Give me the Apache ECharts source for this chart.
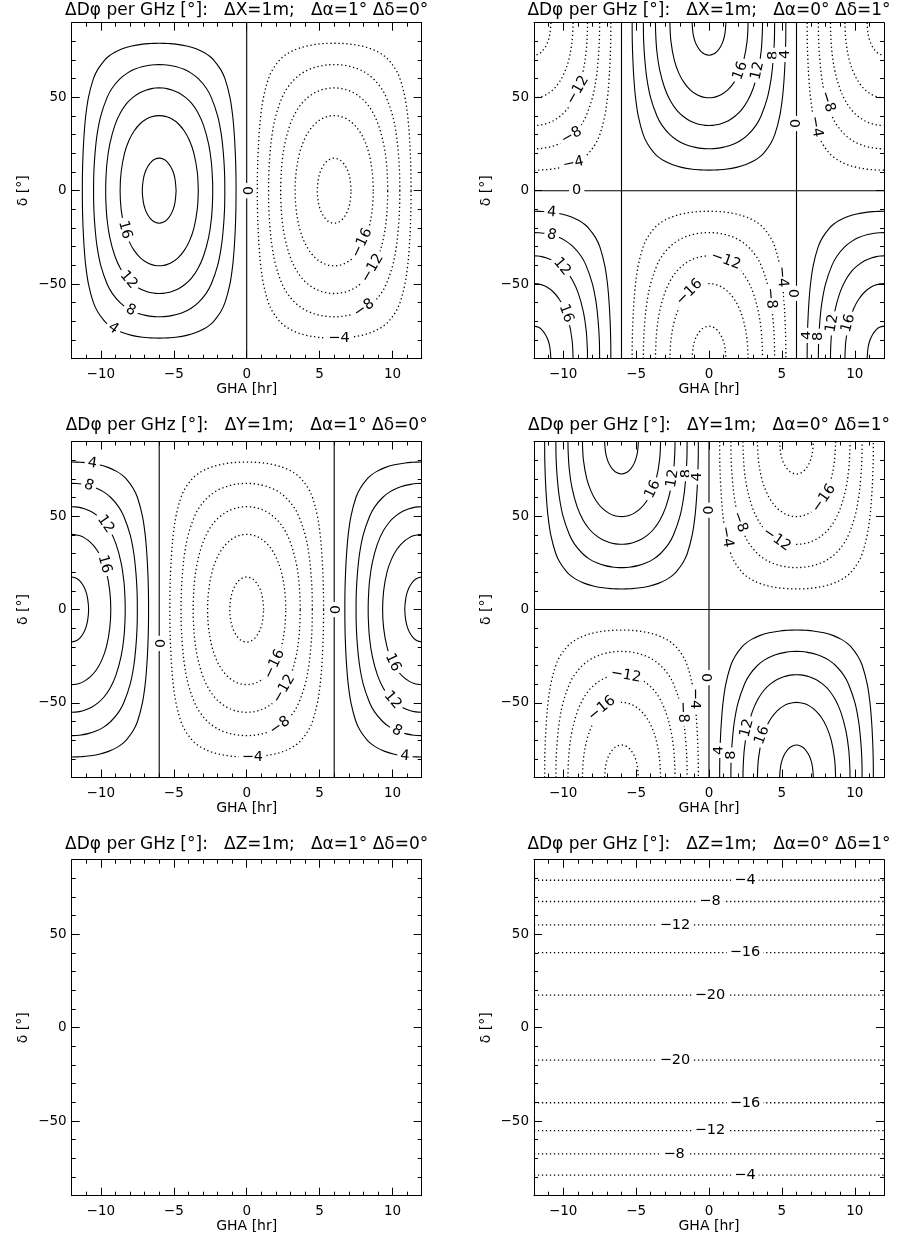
<!DOCTYPE html>
<html>
<head>
<meta charset="utf-8">
<script src="https://cdn.jsdelivr.net/npm/echarts@6/dist/echarts.min.js"></script>
<style>
html, body { margin: 0; background: #fff; }
#chart { width: 900px; height: 1243px; }
</style>
</head>
<body>
<div id="chart"></div>
<script>
// contour levels (phase in degrees per GHz)
var levels = [4, 8, 12, 16, 20];

// one quarter of each closed contour:
// [hours away from the loop centre, degrees away from the centre]
var prof4 = [[5.27, 0], [5.26, 10], [5.22, 20], [5.15, 30], [5.04, 40], [4.85, 50], [4.51, 60], [4.21, 65], [3.74, 70], [3.46, 72], [3.08, 74], [2.53, 76], [1.88, 77.5], [1.13, 78.5], [0.63, 78.85], [0.35, 78.95], [0, 79.0]];
var prof8 = [[4.50, 0], [4.48, 10], [4.40, 20], [4.26, 30], [4.01, 40], [3.57, 50], [3.22, 55], [2.68, 60], [2.19, 63], [1.70, 65], [1.12, 66.5], [0.66, 67.2], [0.33, 67.47], [0, 67.56]];
var prof12 = [[3.67, 0], [3.66, 5], [3.58, 15], [3.39, 25], [3.04, 35], [2.64, 42], [2.20, 47], [1.80, 50], [1.33, 52.5], [0.87, 54], [0.52, 54.7], [0.26, 54.98], [0, 55.07]];
var prof16 = [[2.68, 0], [2.61, 10], [2.38, 20], [2.07, 27], [1.72, 32], [1.29, 36], [0.85, 38.5], [0.52, 39.6], [0.26, 40.07], [0, 40.23]];
var prof20 = [[1.16, 0], [1.09, 6], [0.96, 10], [0.78, 13], [0.54, 15.5], [0.31, 16.8], [0, 17.44]];
var profiles = [prof4, prof8, prof12, prof16, prof20];

// loop centres per panel: [GHA, dec, sign]
var centresXa = [[-6, 0, 1], [6, 0, -1]];
var centresXd = [[0, 90, 1], [0, -90, -1], [-12, 90, -1], [12, 90, -1], [-12, -90, 1], [12, -90, 1]];
var centresYa = [[0, 0, -1], [-12, 0, 1], [12, 0, 1]];
var centresYd = [[-6, 90, 1], [6, 90, -1], [-6, -90, -1], [6, -90, 1]];
var centresZa = [];
var centresZd = [];

// zero contours: vertical ones (GHA) and horizontal ones (dec)
var zeroGha = [[0], [-6, 6], [-6, 6], [0], [], []];
var zeroDec = [[], [0], [], [0], [], []];

// dZ / d-delta panel: flat contours at +-dec, levels -4 .. -20
var zLineDec = [79.0, 67.6, 55.1, 40.2, 17.4];

// contour labels: [GHA, dec, text, angle]
var labelsXa = [
  [0, 0, '0', -90], [-8.35, -21, '16', -75], [-8.1, -47.8, '12', -50], [-7.95, -64, '8', -25], [-9.15, -73.7, '4', -35],
  [7.9, -28, '\u221216', 65], [8.62, -41.5, '\u221212', 60], [8.05, -63, '\u22128', 35], [6.33, -79.0, '\u22124', 0]
];
var labelsXd = [
  [-9.0, 53.9, '\u221212', 60], [-9.42, 29.5, '\u22128', 30], [-9.3, 14.7, '\u22124', 12], [-9.07, 0, '0', 0],
  [-10.78, -11.6, '4', -5], [-10.78, -23.7, '8', -15], [-10.08, -40.7, '12', -50], [-9.8, -65.7, '16', -70],
  [2.15, 64.3, '16', 70], [3.33, 64.3, '12', 78], [4.38, 72.5, '8', 90], [5.2, 73, '4', 90], [6, 36, '0', 90],
  [8.12, 47.7, '\u22128', -72], [7.33, 34.3, '\u22124', -80],
  [1.15, -37.3, '\u221212', -20], [-1.35, -54.4, '\u221216', 45], [4.22, -57.6, '\u22128', -85], [5.0, -46.1, '\u22124', -85], [5.75, -55, '0', -90],
  [6.72, -77.5, '4', 90], [7.5, -78, '8', 90], [8.45, -71, '12', 80], [9.55, -71, '16', 75]
];
var labelsYa = [
  [-6, -18.2, '0', -90], [6, 0, '0', -90],
  [-10.59, 78.2, '4', -8], [-10.83, 66.4, '8', -20], [-9.67, 45.7, '12', -55], [-9.75, 24.3, '16', -75],
  [1.9, -29.3, '\u221216', 65], [2.55, -42.5, '\u221212', 60], [2.28, -62.3, '\u22128', 35], [0.39, -79, '\u22124', 0],
  [10.02, -28.4, '16', -65], [10.0, -48.5, '12', -50], [10.3, -65, '8', -30], [10.85, -78.5, '4', -5]
];
var labelsYd = [
  [-3.85, 64.4, '16', 65], [-2.5, 70.2, '12', 80], [-1.57, 72.8, '8', 90], [-0.78, 71, '4', 90], [0, 53.2, '0', 90],
  [2.1, 46.9, '\u22128', -70], [1.2, 38.9, '\u22124', -80], [4.64, 37.6, '\u221212', -35], [7.88, 59.5, '\u221216', 55],
  [-5.7, -35.3, '\u221212', -10], [-7.35, -53, '\u221216', 40], [-1.8, -55, '\u22128', -88], [-0.95, -47.7, '\u22124', -90], [-0.25, -36.5, '0', -90],
  [0.7, -75.5, '4', 90], [1.5, -78, '8', 90], [2.6, -63.5, '12', 75], [3.65, -67.4, '16', 70]
];
var labelsZa = [];
var labelsZd = [
  [2.47, 79.0, '\u22124', 0], [0.07, 67.6, '\u22128', 0], [-2.33, 55.1, '\u221212', 0], [2.47, 40.2, '\u221216', 0], [0.07, 17.4, '\u221220', 0],
  [-2.33, -17.4, '\u221220', 0], [2.47, -40.2, '\u221216', 0], [0.07, -55.1, '\u221212', 0], [-2.39, -67.6, '\u22128', 0], [2.47, -79.0, '\u22124', 0]
];

var panelTitles = [
  '\u0394D\u03c6 per GHz [\u00b0]:   \u0394X=1m;   \u0394\u03b1=1\u00b0 \u0394\u03b4=0\u00b0',
  '\u0394D\u03c6 per GHz [\u00b0]:   \u0394X=1m;   \u0394\u03b1=0\u00b0 \u0394\u03b4=1\u00b0',
  '\u0394D\u03c6 per GHz [\u00b0]:   \u0394Y=1m;   \u0394\u03b1=1\u00b0 \u0394\u03b4=0\u00b0',
  '\u0394D\u03c6 per GHz [\u00b0]:   \u0394Y=1m;   \u0394\u03b1=0\u00b0 \u0394\u03b4=1\u00b0',
  '\u0394D\u03c6 per GHz [\u00b0]:   \u0394Z=1m;   \u0394\u03b1=1\u00b0 \u0394\u03b4=0\u00b0',
  '\u0394D\u03c6 per GHz [\u00b0]:   \u0394Z=1m;   \u0394\u03b1=0\u00b0 \u0394\u03b4=1\u00b0'
];

// ticks
var xMajor = [-10, -5, 0, 5, 10];
var xMinor = [-11, -9, -8, -7, -6, -4, -3, -2, -1, 1, 2, 3, 4, 6, 7, 8, 9, 11];
var yMajor = [-50, 0, 50];
var yMinor = [-80, -70, -60, -40, -30, -20, -10, 10, 20, 30, 40, 60, 70, 80];

var panelCentres = [centresXa, centresXd, centresYa, centresYd, centresZa, centresZd];
var panelLabels = [labelsXa, labelsXd, labelsYa, labelsYd, labelsZa, labelsZd];

var FONT = 'DejaVu Sans';
var boxes = [[71.7, 22.7], [534, 22.7], [71.7, 441.5], [534, 441.5], [71.7, 859.7], [534, 859.7]];
var titleTops = [2, 2, 417.5, 417.5, 836.5, 836.5];

function fmtTick(v) {
  return String(v).replace('-', '\u2212');
}

// put the quarter profile together into the visible part of one contour
function contourPath(prof, cx, cy) {
  var out = [];
  var rev = prof.slice().reverse();
  function add(pts) {
    pts.forEach(function (p) {
      var last = out[out.length - 1];
      if (!last || last[0] !== p[0] || last[1] !== p[1]) out.push(p);
    });
  }
  if (cy === 0) {
    if (Math.abs(cx) === 12) {
      var s = cx < 0 ? 1 : -1;
      add(rev.map(function (q) { return [cx + s * q[0], -q[1]]; }));
      add(prof.map(function (q) { return [cx + s * q[0], q[1]]; }));
    } else {
      add(prof.map(function (q) { return [cx + q[0], q[1]]; }));
      add(rev.map(function (q) { return [cx - q[0], q[1]]; }));
      add(prof.map(function (q) { return [cx - q[0], -q[1]]; }));
      add(rev.map(function (q) { return [cx + q[0], -q[1]]; }));
    }
  } else {
    var t = cy > 0 ? -1 : 1;
    if (Math.abs(cx) === 12) {
      var s2 = cx < 0 ? 1 : -1;
      add(prof.map(function (q) { return [cx + s2 * q[0], cy + t * q[1]]; }));
    } else {
      add(prof.map(function (q) { return [cx - q[0], cy + t * q[1]]; }));
      add(rev.map(function (q) { return [cx + q[0], cy + t * q[1]]; }));
    }
  }
  return out;
}

var solidStyle = { color: '#000', width: 1.1, type: 'solid' };
var dotStyle = { color: '#000', width: 1.3, type: [1.3, 2.7] };

function lineSeries(g, data, style) {
  return {
    type: 'line', xAxisIndex: g * 4, yAxisIndex: g * 4,
    data: data, showSymbol: false, symbol: 'none', smooth: 0.35,
    lineStyle: style, silent: true, z: 2, animation: false
  };
}

function makeAxis(dim, g, pos, values, len, withLabel, withLine) {
  return {
    type: 'value', gridIndex: g, position: pos,
    min: dim === 'x' ? -12 : -90, max: dim === 'x' ? 12 : 90,
    splitLine: { show: false },
    axisLine: { show: withLine, onZero: false, lineStyle: { color: '#000', width: 1 } },
    axisTick: { show: true, inside: true, length: len, customValues: values, lineStyle: { color: '#000', width: 1 } },
    axisLabel: {
      show: withLabel, customValues: values, formatter: fmtTick,
      color: '#000', fontSize: 13.5, fontFamily: FONT, margin: dim === 'x' ? 9 : 5
    }
  };
}

var grids = [], xAxes = [], yAxes = [], series = [], titles = [];

boxes.forEach(function (b, g) {
  grids.push({ left: b[0], top: b[1], width: 350, height: 336, show: false });
  titles.push({
    text: panelTitles[g], left: b[0] + 175, top: titleTops[g], textAlign: 'center', padding: 0,
    textStyle: { fontSize: 17, fontWeight: 'normal', color: '#000', fontFamily: FONT }
  });

  var xb = makeAxis('x', g, 'bottom', xMajor, 8, true, true);
  xb.name = 'GHA [hr]';
  xb.nameLocation = 'middle';
  xb.nameGap = 24;
  xb.nameTextStyle = { fontSize: 14, color: '#000', fontFamily: FONT };
  xAxes.push(xb, makeAxis('x', g, 'bottom', xMinor, 4, false, false),
    makeAxis('x', g, 'top', xMajor, 8, false, true), makeAxis('x', g, 'top', xMinor, 4, false, false));

  var yl = makeAxis('y', g, 'left', yMajor, 8, true, true);
  yl.name = '\u03b4 [\u00b0]';
  yl.nameLocation = 'middle';
  yl.nameGap = 41;
  yl.nameTextStyle = { fontSize: 14, color: '#000', fontFamily: FONT };
  yAxes.push(yl, makeAxis('y', g, 'left', yMinor, 4, false, false),
    makeAxis('y', g, 'right', yMajor, 8, false, true), makeAxis('y', g, 'right', yMinor, 4, false, false));

  // closed / open contours
  panelCentres[g].forEach(function (c) {
    profiles.forEach(function (prof) {
      series.push(lineSeries(g, contourPath(prof, c[0], c[1]), c[2] > 0 ? solidStyle : dotStyle));
    });
  });

  // zero contours
  zeroGha[g].forEach(function (h) {
    series.push(lineSeries(g, [[h, -90], [h, 90]], solidStyle));
  });
  zeroDec[g].forEach(function (d) {
    series.push(lineSeries(g, [[-12, d], [12, d]], solidStyle));
  });

  // contour labels
  if (panelLabels[g].length) {
    series.push({
      type: 'scatter', xAxisIndex: g * 4, yAxisIndex: g * 4, z: 5, silent: true, animation: false,
      symbolSize: 0, itemStyle: { color: '#000' },
      label: {
        show: true, position: 'inside', formatter: '{b}', color: '#000', opacity: 1,
        textBorderWidth: 0, fontWeight: 'normal',
        fontSize: 14.5, fontFamily: FONT, backgroundColor: '#fff', padding: [1, 3], lineHeight: 15
      },
      data: panelLabels[g].map(function (l) {
        return { name: l[2], value: [l[0], l[1]], label: { rotate: l[3] } };
      })
    });
  }
});

// flat contours of the dZ / d-delta panel
zLineDec.forEach(function (d) {
  series.push(lineSeries(5, [[-12, d], [12, d]], dotStyle));
  series.push(lineSeries(5, [[-12, -d], [12, -d]], dotStyle));
});

var chart = echarts.init(document.getElementById('chart'));
chart.setOption({
  animation: false,
  backgroundColor: '#fff',
  textStyle: { fontFamily: FONT },
  title: titles,
  grid: grids,
  xAxis: xAxes,
  yAxis: yAxes,
  series: series
});
</script>
</body>
</html>
